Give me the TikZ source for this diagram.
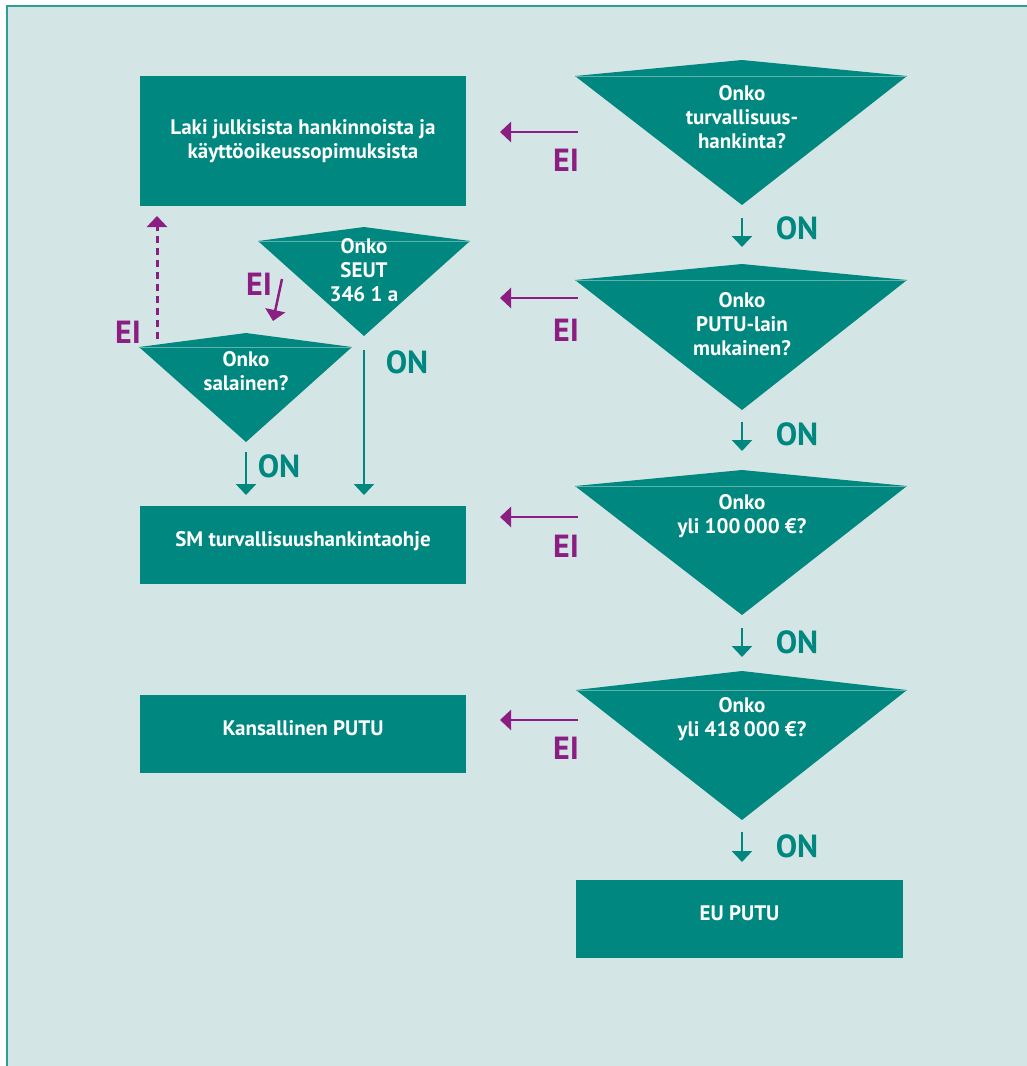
\documentclass[tikz,border=0pt]{standalone}
\usepackage{fontspec}
\setmainfont{PT Sans}
\usetikzlibrary{arrows.meta}
\definecolor{pale}{HTML}{D3E6E5}
\definecolor{sea}{HTML}{00877F}
\definecolor{rim}{HTML}{2E9E97}
\definecolor{plum}{HTML}{8C1D82}
\definecolor{seam}{HTML}{5FB3AD}
\begin{document}
\begin{tikzpicture}[x=1pt,y=-1pt,
box/.style={fill=sea,text=white,align=center,inner sep=0pt,minimum width=326pt,
  font=\bfseries\fontsize{21}{24}\selectfont},
ask/.style={text=white,align=center,inner sep=0pt,font=\bfseries\fontsize{21}{24}\selectfont},
yes/.style={sea,line width=2.5pt,-{Triangle[width=20pt,length=11pt]}},
no/.style={plum,line width=2.5pt,-{Triangle[width=20pt,length=11pt]}},
onlbl/.style={sea,font=\bfseries\fontsize{32}{34}\selectfont},
eilbl/.style={plum,font=\bfseries\fontsize{32}{34}\selectfont}
]
\useasboundingbox (0,0) rectangle (1027,1066);
\fill[pale] (7,6) rectangle (1027,1066);
\draw[rim,line width=2pt] (7,1066) -- (7,6) -- (1027,6);

% boxes on the left
\node[box,minimum height=130pt] (laki) at (303,141) {Laki julkisista hankinnoista ja\\käyttöoikeussopimuksista};
\node[box,minimum height=78pt,text depth=12pt] (sm) at (303,545) {SM turvallisuushankintaohje};
\node[box,minimum height=78pt,text depth=12pt] (kans) at (303,734) {Kansallinen PUTU};
\node[box,minimum height=78pt,minimum width=327pt,text depth=12pt] (eu) at (739.5,919) {EU PUTU};

% questions on the right
\fill[sea] (575,76) -- (742,60) -- (907,76) -- (742,205) -- cycle;
\draw[seam,line width=0.8pt] (575,76) -- (907,76);
\node[ask] (q1) at (742,117) {Onko\\turvallisuus-\\hankinta?};

\fill[sea] (575,280) -- (742,264) -- (907,280) -- (742,410) -- cycle;
\draw[seam,line width=0.8pt] (575,280) -- (907,280);
\node[ask] (q2) at (742,324) {Onko\\PUTU-lain\\mukainen?};

\fill[sea] (575,486) -- (742,470) -- (907,486) -- (742,615) -- cycle;
\draw[seam,line width=0.8pt] (575,486) -- (907,486);
\node[ask] (q3) at (742,516) {Onko\\yli 100\,000 €?};

\fill[sea] (576,690) -- (742,671) -- (907,690) -- (742,820) -- cycle;
\draw[seam,line width=0.8pt] (576,690) -- (907,690);
\node[ask] (q4) at (742,719) {Onko\\yli 418\,000 €?};

% questions in the middle
\fill[sea] (258,241) -- (364,227) -- (470,241) -- (364,336) -- cycle;
\draw[seam,line width=0.8pt] (258,241) -- (470,241);
\node[ask] (seut) at (364,270) {Onko\\SEUT\\346 1 a};

\fill[sea] (139,347) -- (246,333) -- (352,347) -- (246,442) -- cycle;
\draw[seam,line width=0.8pt] (139,347) -- (352,347);
\node[ask] (sal) at (246,371) {Onko\\salainen?};

% arrow ends
\coordinate (e1) at (578,132); \coordinate (e1t) at (500,132);
\coordinate (e2) at (578,298); \coordinate (e2t) at (500,298);
\coordinate (e3) at (578,517); \coordinate (e3t) at (500,517);
\coordinate (e4) at (578,720); \coordinate (e4t) at (500,720);
\coordinate (o1) at (742,218); \coordinate (o1t) at (742,247);
\coordinate (o2) at (742,422); \coordinate (o2t) at (742,451);
\coordinate (o3) at (742,628); \coordinate (o3t) at (742,657);
\coordinate (o4) at (742,832); \coordinate (o4t) at (742,862);
\coordinate (s1) at (364,350); \coordinate (s1t) at (364,495);
\coordinate (s2) at (246,452); \coordinate (s2t) at (246,495);
\coordinate (d1) at (282,279); \coordinate (d1t) at (273,321);
\coordinate (u1) at (157,339); \coordinate (u1t) at (157,216);

\draw[no] (e1) -- (e1t);
\draw[no] (e2) -- (e2t);
\draw[no] (e3) -- (e3t);
\draw[no] (e4) -- (e4t);
\draw[yes] (o1) -- (o1t);
\draw[yes] (o2) -- (o2t);
\draw[yes] (o3) -- (o3t);
\draw[yes] (o4) -- (o4t);
\draw[yes] (s1) -- (s1t);
\draw[yes] (s2) -- (s2t);
\draw[no] (d1) -- (d1t);
\draw[no,line width=3pt,dash pattern=on 7pt off 5pt] (u1) -- (u1t);

% labels
\node[eilbl] (n1) at (566,160) {EI};
\node[eilbl] (n2) at (566,330) {EI};
\node[eilbl] (n3) at (566,546) {EI};
\node[eilbl] (n4) at (566,748) {EI};
\node[eilbl] (n5) at (259,284) {EI};
\node[eilbl] (n6) at (128,332) {EI};
\node[onlbl] (y1) at (797,228) {ON};
\node[onlbl] (y2) at (797,434) {ON};
\node[onlbl] (y3) at (797,642) {ON};
\node[onlbl] (y4) at (797,846) {ON};
\node[onlbl] (y5) at (407,362) {ON};
\node[onlbl] (y6) at (279,466) {ON};
\end{tikzpicture}
\end{document}
